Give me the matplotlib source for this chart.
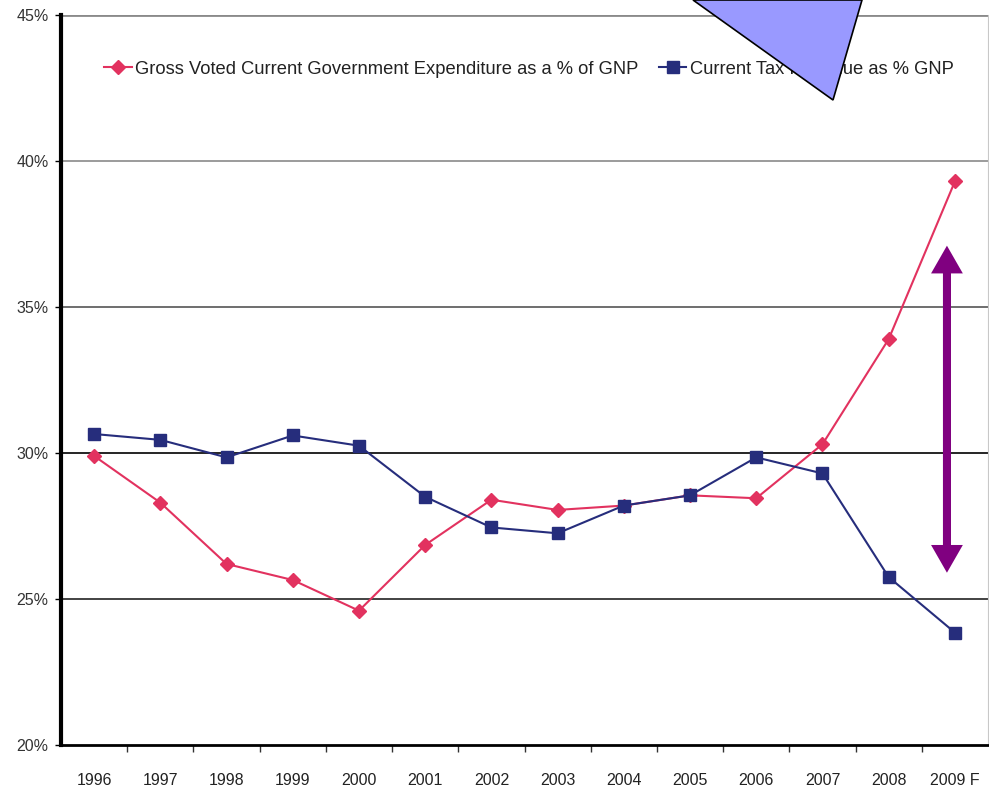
import matplotlib
matplotlib.use("Agg")
import matplotlib.pyplot as plt
from matplotlib.patches import Polygon
from matplotlib.ticker import FixedLocator, PercentFormatter

years = ["1996", "1997", "1998", "1999", "2000", "2001", "2002",
         "2003", "2004", "2005", "2006", "2007", "2008", "2009 F"]
expenditure = [29.9, 28.3, 26.2, 25.65, 24.6, 26.85, 28.4,
               28.05, 28.2, 28.55, 28.45, 30.3, 33.9, 39.3]
tax_revenue = [30.65, 30.45, 29.85, 30.6, 30.25, 28.5, 27.45,
               27.25, 28.2, 28.55, 29.85, 29.3, 25.75, 23.85]
yticks = [20, 25, 30, 35, 40, 45]

# gap arrow: x position (category units) and its two tips (%)
gap_x = 12.88
gap_top, gap_bottom = 37.1, 25.9
head_len = 0.95

RED = "#e2325f"
NAVY = "#262d7c"
PURPLE = "#800080"
FONT = "Liberation Sans"

fig = plt.figure(figsize=(9.89, 7.95), dpi=100, facecolor="white")
ax = fig.add_axes([61 / 989, 50 / 795, 927 / 989, 730 / 795])

x = list(range(len(years)))

# horizontal gridlines, darker toward the 30% band
grid_cols = {20: None, 25: "#222222", 30: "#000000", 35: "#555555",
             40: "#8a8a8a", 45: "#8a8a8a"}
for v in yticks:
    if grid_cols[v]:
        ax.axhline(v, color=grid_cols[v], lw=1.2 if v != 45 else 2.0, zorder=1)

ax.plot(x, expenditure, color=RED, lw=1.5, marker="D", ms=7.5,
        mfc=RED, mec=RED, zorder=3,
        label="Gross Voted Current Government Expenditure as a % of GNP")
ax.plot(x, tax_revenue, color=NAVY, lw=1.5, marker="s", ms=8,
        mfc=NAVY, mec=NAVY, zorder=3, label="Current Tax Revenue as % GNP")

ax.set_xlim(-0.5, len(years) - 0.5)
ax.set_ylim(20, 45)
ax.set_xticks(x)
ax.set_xticklabels(years, fontsize=11.5, family=FONT, color="#222222")
ax.xaxis.set_minor_locator(FixedLocator([i + 0.5 for i in x[:-1]]))
ax.tick_params(axis="x", which="major", length=0, pad=20)
ax.tick_params(axis="x", which="minor", length=5, width=1, color="#333333")
ax.set_yticks(yticks)
ax.yaxis.set_major_formatter(PercentFormatter(decimals=0))
ax.tick_params(axis="y", length=4, width=1, labelsize=11.5, pad=5,
               labelcolor="#333333")
for lab in ax.get_yticklabels():
    lab.set_family(FONT)

ax.spines["left"].set_linewidth(3)
ax.spines["bottom"].set_linewidth(2)
ax.spines["top"].set_visible(False)
ax.spines["right"].set_color("#c8c8c8")

leg = ax.legend(loc="upper center", bbox_to_anchor=(0.505, 0.96), ncol=2,
                frameon=False, handlelength=1.5, handletextpad=0.2,
                columnspacing=1.1, prop={"family": FONT, "size": 13.2})
for t in leg.get_texts():
    t.set_color("#222222")

# double-headed arrow marking the gap in 2009: two overlapping single arrows,
# each shaft starting under the opposite head
for start, tip in ((gap_bottom + head_len, gap_top),
                   (gap_top - head_len, gap_bottom)):
    ax.arrow(gap_x, start, 0, tip - start, width=0.12, head_width=0.48,
             head_length=head_len, length_includes_head=True,
             color=PURPLE, lw=0, zorder=5)

# callout wedge coming in from the top edge
wedge = Polygon([(693 / 989, 1.0), (862 / 989, 1.0), (833 / 989, 1 - 100 / 795)],
                closed=True, transform=fig.transFigure, facecolor="#9999ff",
                edgecolor="black", lw=1.2, zorder=10)
fig.patches.append(wedge)

fig.savefig("out.png", dpi=100, facecolor="white")
